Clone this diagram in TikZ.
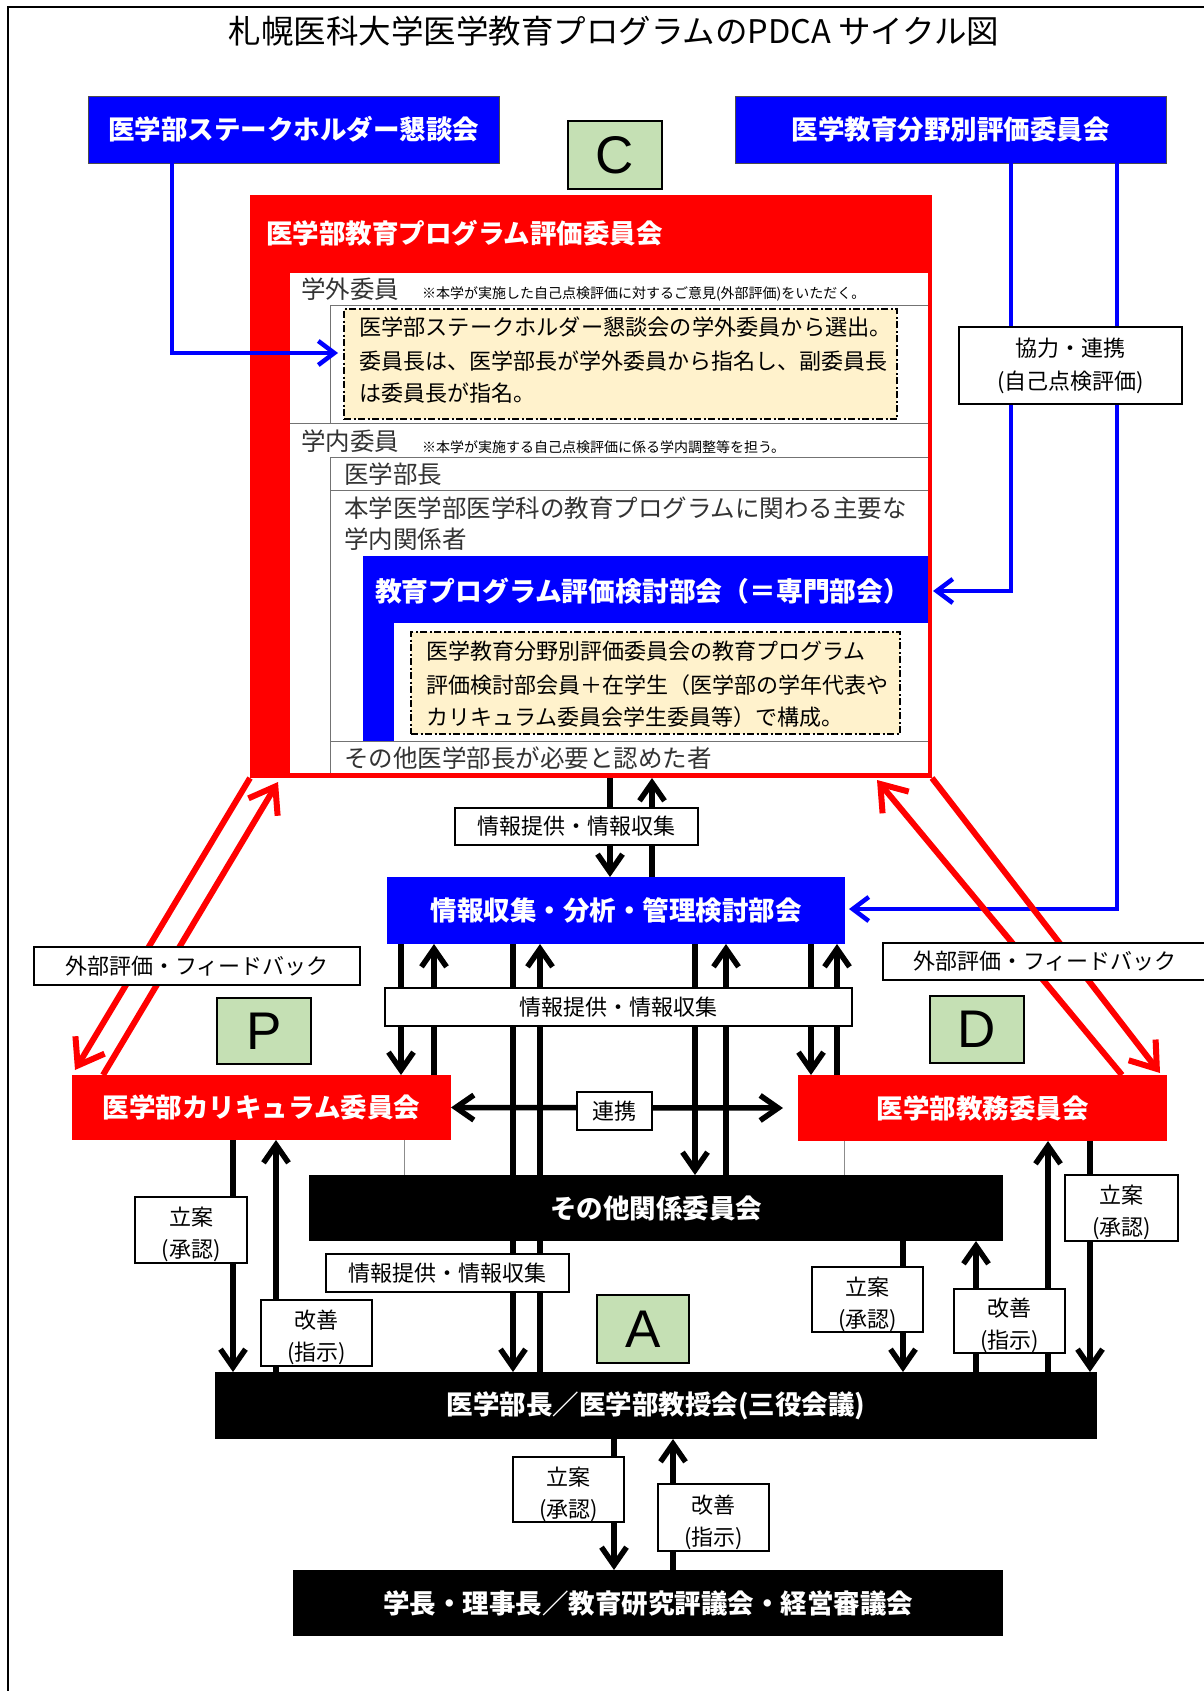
\documentclass[tikz,border=0pt]{standalone}
\usepackage{fontspec}
\setmainfont{Noto Sans CJK JP}
\newfontfamily\latinsans{Liberation Sans}
\usetikzlibrary{arrows.meta}
\definecolor{pdcared}{HTML}{FF0000}
\definecolor{pdcablue}{HTML}{0000FF}
\definecolor{pdcagreen}{HTML}{C5E0B4}
\definecolor{pdcayellow}{HTML}{FFF2CC}
\definecolor{rowtext}{HTML}{333333}
\newcommand{\lbltop}{\rule{0pt}{28pt}}
\begin{document}
\begin{tikzpicture}[x=1pt,y=-1pt,
  every node/.style={inner sep=0pt, outer sep=0pt},
  fbold/.style={font=\bfseries\fontsize{26.5}{30}\selectfont},
  bluebox/.style={fill=pdcablue, draw=black!70, line width=0.8pt, text=white, fbold},
  bluefill/.style={fill=pdcablue, text=white, fbold},
  redbox/.style={fill=pdcared, text=white, fbold},
  blackbox/.style={fill=black, text=white, fbold},
  greenbox/.style={fill=pdcagreen, draw=black, line width=2pt, font=\latinsans\fontsize{53}{53}\selectfont},
  lblbox/.style={fill=white, draw=black, line width=2.5pt, align=center, font=\fontsize{22}{32}\selectfont},
  twoline/.style={lblbox},
  rowtxt/.style={anchor=west, text=rowtext, font=\fontsize{24.5}{27}\selectfont},
  notetxt/.style={anchor=west, text=black, font=\fontsize{14}{16}\selectfont},
  dashtxt/.style={anchor=west, text=black, font=\fontsize{22}{24}\selectfont},
  dashbox/.style={fill=pdcayellow, draw=black, line width=1.6pt, dash pattern=on 7pt off 2.5pt on 2pt off 2.5pt},
  rowline/.style={draw=black!55, line width=1pt},
  blk/.style={draw=black, line width=5.5pt},
  bluel/.style={draw=pdcablue, line width=4.5pt},
  redl/.style={draw=pdcared, line width=6pt},
  kt/.style={-{Straight Barb[length=18pt,width=25pt]}},
  kt2/.style={{Straight Barb[length=18pt,width=25pt]}-{Straight Barb[length=18pt,width=25pt]}},
  bt/.style={-{Straight Barb[length=16pt,width=24pt]}},
  rt/.style={-{Straight Barb[length=24pt,width=34pt]}}
]
\useasboundingbox (0,0) rectangle (1203,1691);
\fill[white] (0,0) rectangle (1203,1691);
% frame
\draw[line width=2pt] (8,1700) -- (8,7) -- (1210,7);
% title
\node (title) at (614,31) {\fontsize{32.5}{36}\selectfont 札幌医科大学医学教育プログラムのPDCA サイクル図};

% top boxes
\node[bluebox, minimum width=411, minimum height=67] (stake) at (293.5,129.5) {医学部ステークホルダー懇談会};
\node[bluebox, minimum width=431, minimum height=67] (evalc) at (950.5,129.5) {医学教育分野別評価委員会};
\node[greenbox, minimum width=94, minimum height=68] (gC) at (615,155) {C};

% red committee box
\node[fill=pdcared, minimum width=682, minimum height=583] (redbox) at (591,486.5) {};
\fill[white] (290,273) rectangle (928,773);
\node[anchor=west, text=white, fbold] (redtitle) at (266,233) {医学部教育プログラム評価委員会};

% rows
\node[rowtxt] (gakugai) at (301,289) {学外委員};
\node[notetxt] (note1) at (422,294) {※本学が実施した自己点検評価に対するご意見(外部評価)をいただく。};
\draw[rowline] (330,305) -- (928,305);
\node[dashbox, minimum width=553, minimum height=110] (dash1) at (620.5,364) {};
\node[dashtxt, font=\fontsize{22.2}{24}\selectfont] (d1a) at (359,327) {医学部ステークホルダー懇談会の学外委員から選出。};
\node[dashtxt] (d1b) at (359,361) {委員長は、医学部長が学外委員から指名し、副委員長};
\node[dashtxt] (d1c) at (359,393) {は委員長が指名。};
\draw[rowline] (290,423) -- (928,423);
\node[rowtxt] (gakunai) at (301,441) {学内委員};
\node[notetxt] (note2) at (422,447) {※本学が実施する自己点検評価に係る学内調整等を担う。};
\draw[rowline] (330,457) -- (928,457);
\node[rowtxt] (dean1) at (344,474) {医学部長};
\draw[rowline] (330,490) -- (928,490);
\node[rowtxt] (main1) at (344,508) {本学医学部医学科の教育プログラムに関わる主要な};
\node[rowtxt] (main2) at (344,539) {学内関係者};
% sub committee
\node[fill=pdcablue, minimum width=565, minimum height=185] (subbox) at (645.5,648.5) {};
\fill[white] (394,623) rectangle (928,741);
\node[anchor=west, text=white, font=\bfseries\fontsize{26.8}{30}\selectfont] (subtitle) at (375,591) {教育プログラム評価検討部会（＝専門部会）};
\node[dashbox, minimum width=489, minimum height=102] (dash2) at (655.5,683) {};
\node[dashtxt] (d2a) at (426,651) {医学教育分野別評価委員会の教育プログラム};
\node[dashtxt] (d2b) at (426,685) {評価検討部会員＋在学生（医学部の学年代表や};
\node[dashtxt] (d2c) at (426,717) {カリキュラム委員会学生委員等）で構成。};
\draw[rowline] (330,741) -- (928,741);
\node[rowtxt] (other1) at (344,758) {その他医学部長が必要と認めた者};
\draw[rowline] (330,305) -- (330,423);
\draw[rowline] (330,457) -- (330,773);

% middle boxes
\node[bluefill, minimum width=458, minimum height=67] (info) at (616,910.5) {情報収集・分析・管理検討部会};
\node[redbox, minimum width=379, minimum height=65] (curr) at (261.5,1107.5) {医学部カリキュラム委員会};
\node[redbox, minimum width=369, minimum height=66] (kyomu) at (982.5,1108) {医学部教務委員会};
\node[greenbox, minimum width=94, minimum height=66] (gP) at (264,1031) {P};
\node[greenbox, minimum width=94, minimum height=67] (gD) at (977,1029.5) {D};
\node[blackbox, minimum width=694, minimum height=66] (sonota) at (656,1208) {その他関係委員会};
\node[blackbox, minimum width=882, minimum height=67] (dean) at (656,1405.5) {医学部長／医学部教授会(三役会議)};
\node[blackbox, minimum width=710, minimum height=66] (pres) at (648,1603) {学長・理事長／教育研究評議会・経営審議会};
\node[greenbox, minimum width=92, minimum height=68] (gA) at (643,1329) {A};

% thin gray lines
\draw[draw=black!45, line width=1pt] (404,0 |- curr.south) -- (404,0 |- sonota.north);
\draw[draw=black!45, line width=1pt] (844,0 |- kyomu.south) -- (844,0 |- sonota.north);

% blue connectors
\coordinate (bt1) at (338,353);
\coordinate (bt2) at (933,591);
\coordinate (bt3) at (849,909);
\draw[bluel, bt] (172,0 |- stake.south) -- (172,353) -- (bt1);
\draw[bluel, bt] (1011,0 |- evalc.south) -- (1011,591) -- (bt2);
\draw[bluel, bt] (1117,0 |- evalc.south) -- (1117,909) -- (bt3);

% red diagonals
\coordinate (rl1) at (75,1070);
\coordinate (rl2) at (278,782);
\coordinate (rr1) at (877,780);
\coordinate (rr2) at (1160,1073);
\draw[redl, rt] (redbox.south west) -- (rl1);
\draw[redl, rt] (103,0 |- curr.north) -- (rl2);
\draw[redl, rt] (1122,0 |- kyomu.north) -- (rr1);
\draw[redl, rt] (redbox.south east) -- (rr2);

% black connectors
\draw[blk, kt] (610,0 |- redbox.south) -- (610,0 |- info.north);
\draw[blk, kt] (652,0 |- info.north) -- (652,0 |- redbox.south);
\draw[blk, kt] (401,0 |- info.south) -- (401,0 |- curr.north);
\draw[blk, kt] (434,0 |- curr.north) -- (434,0 |- info.south);
\draw[blk, kt] (513,0 |- info.south) -- (513,0 |- dean.north);
\draw[blk, kt] (540,0 |- dean.north) -- (540,0 |- info.south);
\draw[blk, kt] (695,0 |- info.south) -- (695,0 |- sonota.north);
\draw[blk, kt] (726,0 |- sonota.north) -- (726,0 |- info.south);
\draw[blk, kt] (811,0 |- info.south) -- (811,0 |- kyomu.north);
\draw[blk, kt] (837,0 |- kyomu.north) -- (837,0 |- info.south);
\coordinate (renR) at (783,1108);
\draw[blk, kt2] (curr.east) -- (renR);
\draw[blk, kt] (233,0 |- curr.south) -- (233,0 |- dean.north);
\draw[blk, kt] (276,0 |- dean.north) -- (276,0 |- curr.south);
\draw[blk, kt] (903,0 |- sonota.south) -- (903,0 |- dean.north);
\draw[blk, kt] (976,0 |- dean.north) -- (976,0 |- sonota.south);
\draw[blk, kt] (1048,0 |- dean.north) -- (1048,0 |- kyomu.south);
\draw[blk, kt] (1090,0 |- kyomu.south) -- (1090,0 |- dean.north);
\draw[blk, kt] (614,0 |- dean.south) -- (614,0 |- pres.north);
\draw[blk, kt] (673,0 |- pres.north) -- (673,0 |- dean.south);

% labels
\node[lblbox, minimum width=223, minimum height=77, font=\fontsize{22}{33}\selectfont] (kyoryoku) at (1070.5,365.5) {協力・連携\\(自己点検評価)};
\node[lblbox, minimum width=243, minimum height=37] (lblinfo1) at (576.5,826.5) {情報提供・情報収集};
\node[lblbox, minimum width=467, minimum height=38] (lblinfo2) at (618.5,1007) {情報提供・情報収集};
\node[lblbox, minimum width=326, minimum height=38, line width=2pt] (extL) at (197,966) {外部評価・フィードバック};
\node[lblbox, minimum width=324, minimum height=37, line width=2pt] (extR) at (1045,961.5) {外部評価・フィードバック};
\node[lblbox, minimum width=75, minimum height=38] (renkei) at (614.5,1111) {連携};
\node[twoline, minimum width=112, minimum height=66] (ritsuL) at (191,1230) {\lbltop 立案\\(承認)};
\node[twoline, minimum width=111, minimum height=66] (kaiL) at (316.5,1333) {\lbltop 改善\\(指示)};
\node[lblbox, minimum width=243, minimum height=38] (lblinfo3) at (447.5,1273) {情報提供・情報収集};
\node[twoline, minimum width=111, minimum height=65] (ritsuM) at (867.5,1299.5) {\lbltop 立案\\(承認)};
\node[twoline, minimum width=111, minimum height=64] (kaiM) at (1009.5,1321) {\lbltop 改善\\(指示)};
\node[twoline, minimum width=113, minimum height=66] (ritsuR) at (1121.5,1208) {\lbltop 立案\\(承認)};
\node[twoline, minimum width=111, minimum height=65] (ritsuB) at (568.5,1489.5) {\lbltop 立案\\(承認)};
\node[twoline, minimum width=111, minimum height=67] (kaiB) at (713.5,1517.5) {\lbltop 改善\\(指示)};
\end{tikzpicture}
\end{document}
